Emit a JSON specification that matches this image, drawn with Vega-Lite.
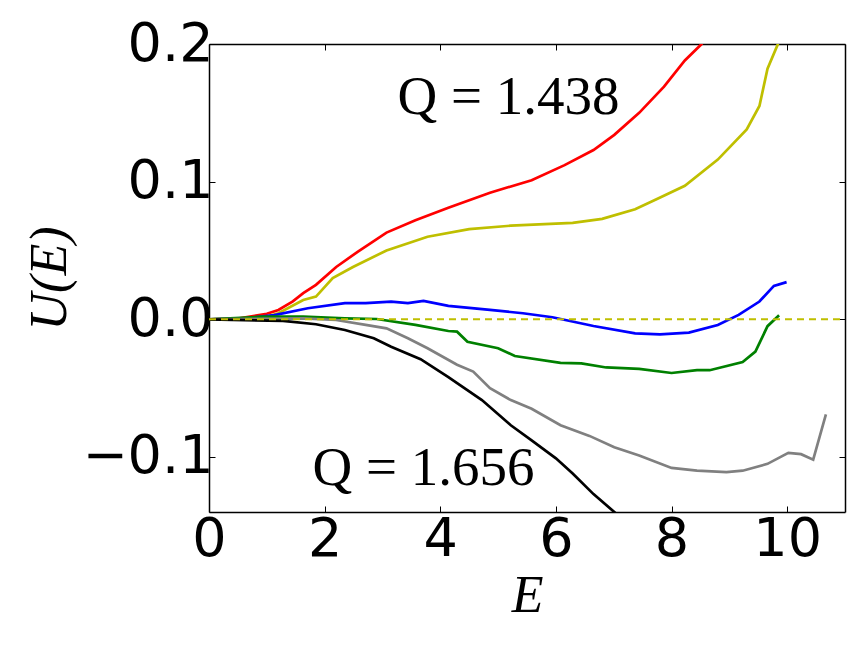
{
  "$schema": "https://vega.github.io/schema/vega-lite/v6.json",
  "width": 636,
  "height": 468,
  "autosize": {"type": "none"},
  "padding": {"left": 209, "top": 44, "right": 19, "bottom": 136},
  "background": "white",
  "config": {
    "view": {"stroke": null},
    "axis": {
      "grid": false,
      "domainColor": "black",
      "domainWidth": 1.5,
      "tickColor": "black",
      "tickWidth": 1,
      "tickSize": -6,
      "labelFlush": false,
      "labelFont": "DejaVu Sans",
      "labelFontSize": 54,
      "labelColor": "black",
      "titleFont": "Liberation Serif",
      "titleFontStyle": "italic",
      "titleFontWeight": "normal",
      "titleFontSize": 52,
      "titleColor": "black"
    }
  },
  "datasets": {
    "curves": [
      {"s": "a", "E": 0, "U": 0}, {"s": "a", "E": 0.5, "U": 0.0005}, {"s": "a", "E": 1.0, "U": 0.004}, {"s": "a", "E": 1.2, "U": 0.0068}, {"s": "a", "E": 1.45, "U": 0.013}, {"s": "a", "E": 1.63, "U": 0.019}, {"s": "a", "E": 1.85, "U": 0.025}, {"s": "a", "E": 2.2, "U": 0.038}, {"s": "a", "E": 2.57, "U": 0.049}, {"s": "a", "E": 3.07, "U": 0.063}, {"s": "a", "E": 3.57, "U": 0.072}, {"s": "a", "E": 4.14, "U": 0.081}, {"s": "a", "E": 4.86, "U": 0.092}, {"s": "a", "E": 5.58, "U": 0.101}, {"s": "a", "E": 6.15, "U": 0.112}, {"s": "a", "E": 6.65, "U": 0.123}, {"s": "a", "E": 7.01, "U": 0.134}, {"s": "a", "E": 7.44, "U": 0.150}, {"s": "a", "E": 7.87, "U": 0.169}, {"s": "a", "E": 8.23, "U": 0.188}, {"s": "a", "E": 8.52, "U": 0.2}, {"s": "a", "E": 8.7, "U": 0.21},
      {"s": "b", "E": 0, "U": 0}, {"s": "b", "E": 0.5, "U": 0.0004}, {"s": "b", "E": 1.0, "U": 0.002}, {"s": "b", "E": 1.2, "U": 0.0044}, {"s": "b", "E": 1.63, "U": 0.014}, {"s": "b", "E": 1.85, "U": 0.0165}, {"s": "b", "E": 2.14, "U": 0.030}, {"s": "b", "E": 2.49, "U": 0.038}, {"s": "b", "E": 3.07, "U": 0.050}, {"s": "b", "E": 3.78, "U": 0.060}, {"s": "b", "E": 4.5, "U": 0.0655}, {"s": "b", "E": 5.22, "U": 0.068}, {"s": "b", "E": 6.29, "U": 0.070}, {"s": "b", "E": 6.8, "U": 0.073}, {"s": "b", "E": 7.37, "U": 0.080}, {"s": "b", "E": 7.73, "U": 0.087}, {"s": "b", "E": 8.23, "U": 0.097}, {"s": "b", "E": 8.8, "U": 0.116}, {"s": "b", "E": 9.3, "U": 0.138}, {"s": "b", "E": 9.52, "U": 0.155}, {"s": "b", "E": 9.66, "U": 0.182}, {"s": "b", "E": 9.84, "U": 0.2}, {"s": "b", "E": 9.9, "U": 0.21},
      {"s": "c", "E": 0, "U": 0}, {"s": "c", "E": 0.6, "U": 0.0005}, {"s": "c", "E": 1.13, "U": 0.003}, {"s": "c", "E": 1.71, "U": 0.008}, {"s": "c", "E": 2.35, "U": 0.0117}, {"s": "c", "E": 2.71, "U": 0.0117}, {"s": "c", "E": 3.15, "U": 0.0129}, {"s": "c", "E": 3.44, "U": 0.0117}, {"s": "c", "E": 3.71, "U": 0.0133}, {"s": "c", "E": 4.14, "U": 0.0097}, {"s": "c", "E": 4.86, "U": 0.0068}, {"s": "c", "E": 5.43, "U": 0.0044}, {"s": "c", "E": 5.94, "U": 0.0015}, {"s": "c", "E": 6.65, "U": -0.0049}, {"s": "c", "E": 7.37, "U": -0.0102}, {"s": "c", "E": 7.8, "U": -0.0109}, {"s": "c", "E": 8.3, "U": -0.0097}, {"s": "c", "E": 8.8, "U": -0.0041}, {"s": "c", "E": 9.16, "U": 0.0032}, {"s": "c", "E": 9.52, "U": 0.0129}, {"s": "c", "E": 9.77, "U": 0.0243}, {"s": "c", "E": 9.99, "U": 0.027},
      {"s": "d", "E": 0, "U": 0}, {"s": "d", "E": 0.92, "U": 0.0019}, {"s": "d", "E": 1.63, "U": 0.002}, {"s": "d", "E": 2.35, "U": 0.0007}, {"s": "d", "E": 2.9, "U": 0.0002}, {"s": "d", "E": 3.57, "U": -0.0041}, {"s": "d", "E": 4.14, "U": -0.0085}, {"s": "d", "E": 4.29, "U": -0.009}, {"s": "d", "E": 4.47, "U": -0.0163}, {"s": "d", "E": 5.0, "U": -0.021}, {"s": "d", "E": 5.29, "U": -0.0267}, {"s": "d", "E": 6.08, "U": -0.0316}, {"s": "d", "E": 6.44, "U": -0.032}, {"s": "d", "E": 6.87, "U": -0.035}, {"s": "d", "E": 7.44, "U": -0.036}, {"s": "d", "E": 8.0, "U": -0.039}, {"s": "d", "E": 8.44, "U": -0.037}, {"s": "d", "E": 8.66, "U": -0.037}, {"s": "d", "E": 9.23, "U": -0.031}, {"s": "d", "E": 9.45, "U": -0.0235}, {"s": "d", "E": 9.66, "U": -0.005}, {"s": "d", "E": 9.86, "U": 0.003},
      {"s": "e", "E": 0, "U": 0}, {"s": "e", "E": 1.63, "U": 0.0007}, {"s": "e", "E": 2.2, "U": -0.0005}, {"s": "e", "E": 2.71, "U": -0.004}, {"s": "e", "E": 3.07, "U": -0.0066}, {"s": "e", "E": 3.44, "U": -0.0138}, {"s": "e", "E": 3.78, "U": -0.021}, {"s": "e", "E": 4.29, "U": -0.033}, {"s": "e", "E": 4.57, "U": -0.038}, {"s": "e", "E": 4.86, "U": -0.050}, {"s": "e", "E": 5.22, "U": -0.0587}, {"s": "e", "E": 5.58, "U": -0.065}, {"s": "e", "E": 6.08, "U": -0.077}, {"s": "e", "E": 6.58, "U": -0.0847}, {"s": "e", "E": 7.01, "U": -0.093}, {"s": "e", "E": 7.44, "U": -0.099}, {"s": "e", "E": 8.0, "U": -0.108}, {"s": "e", "E": 8.44, "U": -0.110}, {"s": "e", "E": 8.95, "U": -0.111}, {"s": "e", "E": 9.23, "U": -0.110}, {"s": "e", "E": 9.66, "U": -0.105}, {"s": "e", "E": 10.02, "U": -0.097}, {"s": "e", "E": 10.24, "U": -0.098}, {"s": "e", "E": 10.45, "U": -0.102}, {"s": "e", "E": 10.67, "U": -0.069},
      {"s": "f", "E": 0, "U": 0}, {"s": "f", "E": 1.28, "U": -0.0012}, {"s": "f", "E": 1.85, "U": -0.0036}, {"s": "f", "E": 2.35, "U": -0.0078}, {"s": "f", "E": 2.85, "U": -0.0138}, {"s": "f", "E": 3.15, "U": -0.02}, {"s": "f", "E": 3.66, "U": -0.029}, {"s": "f", "E": 4.14, "U": -0.042}, {"s": "f", "E": 4.72, "U": -0.0587}, {"s": "f", "E": 5.22, "U": -0.077}, {"s": "f", "E": 5.58, "U": -0.088}, {"s": "f", "E": 6.0, "U": -0.101}, {"s": "f", "E": 6.29, "U": -0.112}, {"s": "f", "E": 6.65, "U": -0.127}, {"s": "f", "E": 7.01, "U": -0.140}, {"s": "f", "E": 7.2, "U": -0.147}
    ],
    "zero": [{"E": 0, "U": 0}, {"E": 11, "U": 0}],
    "labels": [
      {"E": 3.26, "U": 0.1488, "t": "Q = 1.438"},
      {"E": 1.79, "U": -0.1207, "t": "Q = 1.656"}
    ]
  },
  "layer": [
    {
      "data": {"name": "curves"},
      "mark": {"type": "line", "strokeWidth": 2.7, "clip": true},
      "encoding": {
        "x": {"field": "E", "type": "quantitative", "scale": {"domain": [0, 11], "nice": false, "zero": false},
              "axis": {"title": "E", "values": [0, 2, 4, 6, 8, 10], "format": "d", "labelPadding": 6, "titlePadding": 4}},
        "y": {"field": "U", "type": "quantitative", "scale": {"domain": [-0.14, 0.2], "nice": false, "zero": false},
              "axis": {"title": "U(E)", "values": [-0.1, 0, 0.1, 0.2], "format": ".1f", "labelPadding": 2, "titlePadding": 5}},
        "color": {"field": "s", "type": "nominal", "legend": null,
                  "scale": {"domain": ["a", "b", "c", "d", "e", "f"], "range": ["#ff0000", "#bfbf00", "#0000ff", "#008000", "#808080", "#000000"]}}
      }
    },
    {
      "data": {"name": "zero"},
      "mark": {"type": "line", "strokeWidth": 2, "strokeDash": [7, 5], "color": "#bfbf00", "clip": true},
      "encoding": {
        "x": {"field": "E", "type": "quantitative", "axis": {"orient": "top", "labels": false, "title": null, "values": [0, 2, 4, 6, 8, 10]}},
        "y": {"field": "U", "type": "quantitative", "axis": {"orient": "right", "labels": false, "title": null, "values": [-0.1, 0, 0.1, 0.2]}}
      }
    },
    {
      "data": {"name": "labels"},
      "mark": {"type": "text", "font": "Liberation Serif", "fontSize": 55, "align": "left", "baseline": "alphabetic", "color": "black"},
      "encoding": {
        "x": {"field": "E", "type": "quantitative", "axis": null},
        "y": {"field": "U", "type": "quantitative", "axis": null},
        "text": {"field": "t"}
      }
    }
  ],
  "resolve": {"axis": {"x": "independent", "y": "independent"}}
}
